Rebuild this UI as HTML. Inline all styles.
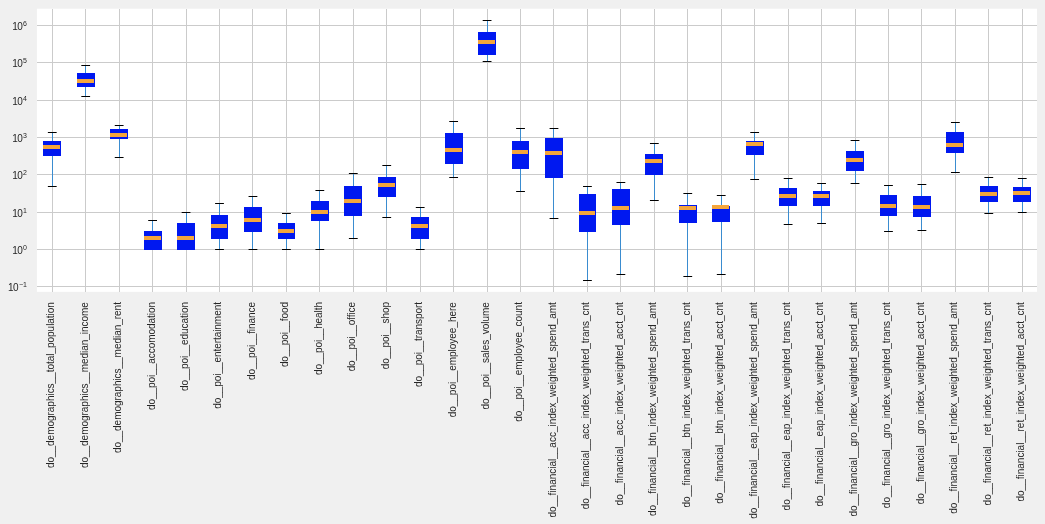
<!DOCTYPE html>
<html><head><meta charset="utf-8"><title>boxplot</title>
<style>html,body{margin:0;padding:0;background:#f0f0f0}body{width:1045px;height:524px;overflow:hidden}</style></head>
<body>
<svg width="1045" height="524" viewBox="0 0 1045 524" style="display:block;font-family:'Liberation Sans',Arial,sans-serif;font-variant-ligatures:none;font-feature-settings:'liga' 0,'clig' 0">
<rect x="0" y="0" width="1045" height="524" fill="#f0f0f0"/>
<rect x="36.9" y="8.7" width="1000.1" height="283.15" fill="#ffffff"/>
<g shape-rendering="crispEdges" fill="#cbcbcb">
<rect x="52" y="9" width="1" height="283"/>
<rect x="85" y="9" width="1" height="283"/>
<rect x="119" y="9" width="1" height="283"/>
<rect x="152" y="9" width="1" height="283"/>
<rect x="186" y="9" width="1" height="283"/>
<rect x="219" y="9" width="1" height="283"/>
<rect x="252" y="9" width="1" height="283"/>
<rect x="286" y="9" width="1" height="283"/>
<rect x="319" y="9" width="1" height="283"/>
<rect x="353" y="9" width="1" height="283"/>
<rect x="386" y="9" width="1" height="283"/>
<rect x="420" y="9" width="1" height="283"/>
<rect x="453" y="9" width="1" height="283"/>
<rect x="487" y="9" width="1" height="283"/>
<rect x="520" y="9" width="1" height="283"/>
<rect x="553" y="9" width="1" height="283"/>
<rect x="587" y="9" width="1" height="283"/>
<rect x="620" y="9" width="1" height="283"/>
<rect x="654" y="9" width="1" height="283"/>
<rect x="687" y="9" width="1" height="283"/>
<rect x="721" y="9" width="1" height="283"/>
<rect x="754" y="9" width="1" height="283"/>
<rect x="788" y="9" width="1" height="283"/>
<rect x="821" y="9" width="1" height="283"/>
<rect x="855" y="9" width="1" height="283"/>
<rect x="888" y="9" width="1" height="283"/>
<rect x="921" y="9" width="1" height="283"/>
<rect x="955" y="9" width="1" height="283"/>
<rect x="988" y="9" width="1" height="283"/>
<rect x="1022" y="9" width="1" height="283"/>
<rect x="37" y="25" width="1000" height="1"/>
<rect x="37" y="62" width="1000" height="1"/>
<rect x="37" y="100" width="1000" height="1"/>
<rect x="37" y="137" width="1000" height="1"/>
<rect x="37" y="174" width="1000" height="1"/>
<rect x="37" y="212" width="1000" height="1"/>
<rect x="37" y="249" width="1000" height="1"/>
<rect x="37" y="286" width="1000" height="1"/>
</g>
<g shape-rendering="crispEdges">
<rect x="52" y="132" width="1" height="54" fill="#3a8cd0"/>
 <rect x="47.86" y="132" width="8.8" height="1" fill="#000" shape-rendering="auto"/>
 <rect x="47.86" y="186" width="8.8" height="1" fill="#000" shape-rendering="auto"/>
<rect x="43" y="141" width="18" height="15" fill="#0018f0"/>
<rect x="43" y="145" width="17" height="4" fill="#f5a63c"/>
<rect x="85" y="65" width="1" height="31" fill="#3a8cd0"/>
 <rect x="81.31" y="65" width="8.8" height="1" fill="#000" shape-rendering="auto"/>
 <rect x="81.31" y="96" width="8.8" height="1" fill="#000" shape-rendering="auto"/>
<rect x="77" y="73" width="18" height="14" fill="#0018f0"/>
<rect x="77" y="79" width="17" height="4" fill="#f5a63c"/>
<rect x="119" y="125" width="1" height="32" fill="#3a8cd0"/>
 <rect x="114.76" y="125" width="8.8" height="1" fill="#000" shape-rendering="auto"/>
 <rect x="114.76" y="157" width="8.8" height="1" fill="#000" shape-rendering="auto"/>
<rect x="110" y="129" width="18" height="10" fill="#0018f0"/>
<rect x="110" y="133" width="17" height="4" fill="#f5a63c"/>
<rect x="152" y="220" width="1" height="30" fill="#3a8cd0"/>
 <rect x="148.20" y="220" width="8.8" height="1" fill="#000" shape-rendering="auto"/>
<rect x="144" y="231" width="18" height="19" fill="#0018f0"/>
<rect x="144" y="236" width="17" height="4" fill="#f5a63c"/>
<rect x="186" y="212" width="1" height="38" fill="#3a8cd0"/>
 <rect x="181.65" y="212" width="8.8" height="1" fill="#000" shape-rendering="auto"/>
<rect x="177" y="223" width="18" height="27" fill="#0018f0"/>
<rect x="177" y="236" width="17" height="4" fill="#f5a63c"/>
<rect x="219" y="203" width="1" height="46" fill="#3a8cd0"/>
 <rect x="215.10" y="203" width="8.8" height="1" fill="#000" shape-rendering="auto"/>
 <rect x="215.10" y="249" width="8.8" height="1" fill="#000" shape-rendering="auto"/>
<rect x="211" y="215" width="17" height="24" fill="#0018f0"/>
<rect x="211" y="224" width="16" height="4" fill="#f5a63c"/>
<rect x="252" y="196" width="1" height="53" fill="#3a8cd0"/>
 <rect x="248.55" y="196" width="8.8" height="1" fill="#000" shape-rendering="auto"/>
 <rect x="248.55" y="249" width="8.8" height="1" fill="#000" shape-rendering="auto"/>
<rect x="244" y="207" width="18" height="25" fill="#0018f0"/>
<rect x="244" y="218" width="17" height="4" fill="#f5a63c"/>
<rect x="286" y="213" width="1" height="36" fill="#3a8cd0"/>
 <rect x="282.00" y="213" width="8.8" height="1" fill="#000" shape-rendering="auto"/>
 <rect x="282.00" y="249" width="8.8" height="1" fill="#000" shape-rendering="auto"/>
<rect x="278" y="223" width="17" height="16" fill="#0018f0"/>
<rect x="278" y="229" width="16" height="4" fill="#f5a63c"/>
<rect x="319" y="190" width="1" height="59" fill="#3a8cd0"/>
 <rect x="315.44" y="190" width="8.8" height="1" fill="#000" shape-rendering="auto"/>
 <rect x="315.44" y="249" width="8.8" height="1" fill="#000" shape-rendering="auto"/>
<rect x="311" y="201" width="18" height="20" fill="#0018f0"/>
<rect x="311" y="210" width="17" height="4" fill="#f5a63c"/>
<rect x="353" y="173" width="1" height="65" fill="#3a8cd0"/>
 <rect x="348.89" y="173" width="8.8" height="1" fill="#000" shape-rendering="auto"/>
 <rect x="348.89" y="238" width="8.8" height="1" fill="#000" shape-rendering="auto"/>
<rect x="344" y="186" width="18" height="30" fill="#0018f0"/>
<rect x="344" y="199" width="17" height="4" fill="#f5a63c"/>
<rect x="386" y="165" width="1" height="52" fill="#3a8cd0"/>
 <rect x="382.34" y="165" width="8.8" height="1" fill="#000" shape-rendering="auto"/>
 <rect x="382.34" y="217" width="8.8" height="1" fill="#000" shape-rendering="auto"/>
<rect x="378" y="177" width="18" height="20" fill="#0018f0"/>
<rect x="378" y="183" width="17" height="4" fill="#f5a63c"/>
<rect x="420" y="207" width="1" height="42" fill="#3a8cd0"/>
 <rect x="415.79" y="207" width="8.8" height="1" fill="#000" shape-rendering="auto"/>
 <rect x="415.79" y="249" width="8.8" height="1" fill="#000" shape-rendering="auto"/>
<rect x="411" y="217" width="18" height="22" fill="#0018f0"/>
<rect x="411" y="224" width="17" height="4" fill="#f5a63c"/>
<rect x="453" y="121" width="1" height="56" fill="#3a8cd0"/>
 <rect x="449.24" y="121" width="8.8" height="1" fill="#000" shape-rendering="auto"/>
 <rect x="449.24" y="177" width="8.8" height="1" fill="#000" shape-rendering="auto"/>
<rect x="445" y="133" width="18" height="31" fill="#0018f0"/>
<rect x="445" y="148" width="17" height="4" fill="#f5a63c"/>
<rect x="487" y="20" width="1" height="41" fill="#3a8cd0"/>
 <rect x="482.68" y="20" width="8.8" height="1" fill="#000" shape-rendering="auto"/>
 <rect x="482.68" y="61" width="8.8" height="1" fill="#000" shape-rendering="auto"/>
<rect x="478" y="32" width="18" height="23" fill="#0018f0"/>
<rect x="478" y="40" width="17" height="4" fill="#f5a63c"/>
<rect x="520" y="128" width="1" height="63" fill="#3a8cd0"/>
 <rect x="516.13" y="128" width="8.8" height="1" fill="#000" shape-rendering="auto"/>
 <rect x="516.13" y="191" width="8.8" height="1" fill="#000" shape-rendering="auto"/>
<rect x="512" y="141" width="17" height="28" fill="#0018f0"/>
<rect x="512" y="150" width="16" height="4" fill="#f5a63c"/>
<rect x="553" y="128" width="1" height="90" fill="#3a8cd0"/>
 <rect x="549.58" y="128" width="8.8" height="1" fill="#000" shape-rendering="auto"/>
 <rect x="549.58" y="218" width="8.8" height="1" fill="#000" shape-rendering="auto"/>
<rect x="545" y="138" width="18" height="40" fill="#0018f0"/>
<rect x="545" y="151" width="17" height="4" fill="#f5a63c"/>
<rect x="587" y="186" width="1" height="94" fill="#3a8cd0"/>
 <rect x="583.03" y="186" width="8.8" height="1" fill="#000" shape-rendering="auto"/>
 <rect x="583.03" y="280" width="8.8" height="1" fill="#000" shape-rendering="auto"/>
<rect x="579" y="194" width="17" height="38" fill="#0018f0"/>
<rect x="579" y="211" width="16" height="4" fill="#f5a63c"/>
<rect x="620" y="182" width="1" height="92" fill="#3a8cd0"/>
 <rect x="616.48" y="182" width="8.8" height="1" fill="#000" shape-rendering="auto"/>
 <rect x="616.48" y="274" width="8.8" height="1" fill="#000" shape-rendering="auto"/>
<rect x="612" y="189" width="18" height="36" fill="#0018f0"/>
<rect x="612" y="206" width="17" height="4" fill="#f5a63c"/>
<rect x="654" y="143" width="1" height="57" fill="#3a8cd0"/>
 <rect x="649.92" y="143" width="8.8" height="1" fill="#000" shape-rendering="auto"/>
 <rect x="649.92" y="200" width="8.8" height="1" fill="#000" shape-rendering="auto"/>
<rect x="645" y="154" width="18" height="21" fill="#0018f0"/>
<rect x="645" y="159" width="17" height="4" fill="#f5a63c"/>
<rect x="687" y="193" width="1" height="83" fill="#3a8cd0"/>
 <rect x="683.37" y="193" width="8.8" height="1" fill="#000" shape-rendering="auto"/>
 <rect x="683.37" y="276" width="8.8" height="1" fill="#000" shape-rendering="auto"/>
<rect x="679" y="205" width="18" height="18" fill="#0018f0"/>
<rect x="679" y="206" width="17" height="4" fill="#f5a63c"/>
<rect x="721" y="195" width="1" height="79" fill="#3a8cd0"/>
 <rect x="716.82" y="195" width="8.8" height="1" fill="#000" shape-rendering="auto"/>
 <rect x="716.82" y="274" width="8.8" height="1" fill="#000" shape-rendering="auto"/>
<rect x="712" y="206" width="18" height="16" fill="#0018f0"/>
<rect x="712" y="205" width="17" height="4" fill="#f5a63c"/>
<rect x="754" y="132" width="1" height="47" fill="#3a8cd0"/>
 <rect x="750.27" y="132" width="8.8" height="1" fill="#000" shape-rendering="auto"/>
 <rect x="750.27" y="179" width="8.8" height="1" fill="#000" shape-rendering="auto"/>
<rect x="746" y="141" width="18" height="14" fill="#0018f0"/>
<rect x="746" y="142" width="17" height="4" fill="#f5a63c"/>
<rect x="788" y="178" width="1" height="46" fill="#3a8cd0"/>
 <rect x="783.72" y="178" width="8.8" height="1" fill="#000" shape-rendering="auto"/>
 <rect x="783.72" y="224" width="8.8" height="1" fill="#000" shape-rendering="auto"/>
<rect x="779" y="188" width="18" height="18" fill="#0018f0"/>
<rect x="779" y="194" width="17" height="4" fill="#f5a63c"/>
<rect x="821" y="183" width="1" height="40" fill="#3a8cd0"/>
 <rect x="817.16" y="183" width="8.8" height="1" fill="#000" shape-rendering="auto"/>
 <rect x="817.16" y="223" width="8.8" height="1" fill="#000" shape-rendering="auto"/>
<rect x="813" y="191" width="17" height="15" fill="#0018f0"/>
<rect x="813" y="194" width="16" height="4" fill="#f5a63c"/>
<rect x="855" y="140" width="1" height="43" fill="#3a8cd0"/>
 <rect x="850.61" y="140" width="8.8" height="1" fill="#000" shape-rendering="auto"/>
 <rect x="850.61" y="183" width="8.8" height="1" fill="#000" shape-rendering="auto"/>
<rect x="846" y="151" width="18" height="20" fill="#0018f0"/>
<rect x="846" y="158" width="17" height="4" fill="#f5a63c"/>
<rect x="888" y="185" width="1" height="46" fill="#3a8cd0"/>
 <rect x="884.06" y="185" width="8.8" height="1" fill="#000" shape-rendering="auto"/>
 <rect x="884.06" y="231" width="8.8" height="1" fill="#000" shape-rendering="auto"/>
<rect x="880" y="195" width="17" height="21" fill="#0018f0"/>
<rect x="880" y="204" width="16" height="4" fill="#f5a63c"/>
<rect x="921" y="184" width="1" height="46" fill="#3a8cd0"/>
 <rect x="917.51" y="184" width="8.8" height="1" fill="#000" shape-rendering="auto"/>
 <rect x="917.51" y="230" width="8.8" height="1" fill="#000" shape-rendering="auto"/>
<rect x="913" y="196" width="18" height="21" fill="#0018f0"/>
<rect x="913" y="205" width="17" height="4" fill="#f5a63c"/>
<rect x="955" y="122" width="1" height="50" fill="#3a8cd0"/>
 <rect x="950.96" y="122" width="8.8" height="1" fill="#000" shape-rendering="auto"/>
 <rect x="950.96" y="172" width="8.8" height="1" fill="#000" shape-rendering="auto"/>
<rect x="946" y="132" width="18" height="21" fill="#0018f0"/>
<rect x="946" y="143" width="17" height="4" fill="#f5a63c"/>
<rect x="988" y="177" width="1" height="36" fill="#3a8cd0"/>
 <rect x="984.40" y="177" width="8.8" height="1" fill="#000" shape-rendering="auto"/>
 <rect x="984.40" y="213" width="8.8" height="1" fill="#000" shape-rendering="auto"/>
<rect x="980" y="186" width="18" height="16" fill="#0018f0"/>
<rect x="980" y="192" width="17" height="4" fill="#f5a63c"/>
<rect x="1022" y="178" width="1" height="34" fill="#3a8cd0"/>
 <rect x="1017.85" y="178" width="8.8" height="1" fill="#000" shape-rendering="auto"/>
 <rect x="1017.85" y="212" width="8.8" height="1" fill="#000" shape-rendering="auto"/>
<rect x="1013" y="187" width="18" height="15" fill="#0018f0"/>
<rect x="1013" y="191" width="17" height="4" fill="#f5a63c"/>
</g>
<g fill="#262626" font-size="10">
<text x="27.0" y="30.0" text-anchor="end">1<tspan dx="-0.6">0</tspan><tspan font-size="7" dx="0.4" dy="-4.2">6</tspan></text>
<text x="27.0" y="67.0" text-anchor="end">1<tspan dx="-0.6">0</tspan><tspan font-size="7" dx="0.4" dy="-4.2">5</tspan></text>
<text x="27.0" y="105.0" text-anchor="end">1<tspan dx="-0.6">0</tspan><tspan font-size="7" dx="0.4" dy="-4.2">4</tspan></text>
<text x="27.0" y="142.0" text-anchor="end">1<tspan dx="-0.6">0</tspan><tspan font-size="7" dx="0.4" dy="-4.2">3</tspan></text>
<text x="27.0" y="179.0" text-anchor="end">1<tspan dx="-0.6">0</tspan><tspan font-size="7" dx="0.4" dy="-4.2">2</tspan></text>
<text x="27.0" y="217.0" text-anchor="end">1<tspan dx="-0.6">0</tspan><tspan font-size="7" dx="0.4" dy="-4.2">1</tspan></text>
<text x="27.0" y="254.0" text-anchor="end">1<tspan dx="-0.6">0</tspan><tspan font-size="7" dx="0.4" dy="-4.2">0</tspan></text>
<text x="27.0" y="291.0" text-anchor="end">1<tspan dx="-0.6">0</tspan><tspan font-size="7" dx="0.4" dy="-4.2">−1</tspan></text>
<text transform="translate(54,302.1) rotate(-90)" text-anchor="end" style="letter-spacing:-0.0242px">do__demographics__total_population</text>
<text transform="translate(88,302.1) rotate(-90)" text-anchor="end" style="letter-spacing:-0.0267px">do__demographics__median_income</text>
<text transform="translate(121,302.1) rotate(-90)" text-anchor="end" style="letter-spacing:-0.0286px">do__demographics__median_rent</text>
<text transform="translate(155,302.1) rotate(-90)" text-anchor="end" style="letter-spacing:-0.0550px">do__poi__accomodation</text>
<text transform="translate(188,302.1) rotate(-90)" text-anchor="end" style="letter-spacing:-0.0647px">do__poi__education</text>
<text transform="translate(221,302.1) rotate(-90)" text-anchor="end" style="letter-spacing:-0.0524px">do__poi__entertainment</text>
<text transform="translate(255,302.1) rotate(-90)" text-anchor="end" style="letter-spacing:-0.0733px">do__poi__finance</text>
<text transform="translate(288,302.1) rotate(-90)" text-anchor="end" style="letter-spacing:-0.0917px">do__poi__food</text>
<text transform="translate(322,302.1) rotate(-90)" text-anchor="end" style="letter-spacing:-0.0786px">do__poi__health</text>
<text transform="translate(355,302.1) rotate(-90)" text-anchor="end" style="letter-spacing:-0.0786px">do__poi__office</text>
<text transform="translate(389,302.1) rotate(-90)" text-anchor="end" style="letter-spacing:-0.0917px">do__poi__shop</text>
<text transform="translate(422,302.1) rotate(-90)" text-anchor="end" style="letter-spacing:-0.0647px">do__poi__transport</text>
<text transform="translate(456,302.1) rotate(-90)" text-anchor="end" style="letter-spacing:-0.0190px">do__poi__employee_here</text>
<text transform="translate(489,302.1) rotate(-90)" text-anchor="end" style="letter-spacing:-0.0200px">do__poi__sales_volume</text>
<text transform="translate(522,302.1) rotate(-90)" text-anchor="end" style="letter-spacing:-0.0182px">do__poi__employee_count</text>
<text transform="translate(556,302.1) rotate(-90)" text-anchor="end" style="letter-spacing:-0.0048px">do__financial__acc_index_weighted_spend_amt</text>
<text transform="translate(589,302.1) rotate(-90)" text-anchor="end" style="letter-spacing:-0.0048px">do__financial__acc_index_weighted_trans_cnt</text>
<text transform="translate(623,302.1) rotate(-90)" text-anchor="end" style="letter-spacing:-0.0049px">do__financial__acc_index_weighted_acct_cnt</text>
<text transform="translate(656,302.1) rotate(-90)" text-anchor="end" style="letter-spacing:-0.0048px">do__financial__btn_index_weighted_spend_amt</text>
<text transform="translate(690,302.1) rotate(-90)" text-anchor="end" style="letter-spacing:-0.0048px">do__financial__btn_index_weighted_trans_cnt</text>
<text transform="translate(723,302.1) rotate(-90)" text-anchor="end" style="letter-spacing:-0.0049px">do__financial__btn_index_weighted_acct_cnt</text>
<text transform="translate(757,302.1) rotate(-90)" text-anchor="end" style="letter-spacing:-0.0048px">do__financial__eap_index_weighted_spend_amt</text>
<text transform="translate(790,302.1) rotate(-90)" text-anchor="end" style="letter-spacing:-0.0048px">do__financial__eap_index_weighted_trans_cnt</text>
<text transform="translate(823,302.1) rotate(-90)" text-anchor="end" style="letter-spacing:-0.0049px">do__financial__eap_index_weighted_acct_cnt</text>
<text transform="translate(857,302.1) rotate(-90)" text-anchor="end" style="letter-spacing:-0.0048px">do__financial__gro_index_weighted_spend_amt</text>
<text transform="translate(890,302.1) rotate(-90)" text-anchor="end" style="letter-spacing:-0.0048px">do__financial__gro_index_weighted_trans_cnt</text>
<text transform="translate(924,302.1) rotate(-90)" text-anchor="end" style="letter-spacing:-0.0049px">do__financial__gro_index_weighted_acct_cnt</text>
<text transform="translate(957,302.1) rotate(-90)" text-anchor="end" style="letter-spacing:-0.0048px">do__financial__ret_index_weighted_spend_amt</text>
<text transform="translate(991,302.1) rotate(-90)" text-anchor="end" style="letter-spacing:-0.0048px">do__financial__ret_index_weighted_trans_cnt</text>
<text transform="translate(1024,302.1) rotate(-90)" text-anchor="end" style="letter-spacing:-0.0049px">do__financial__ret_index_weighted_acct_cnt</text>
</g>
</svg>
</body></html>
